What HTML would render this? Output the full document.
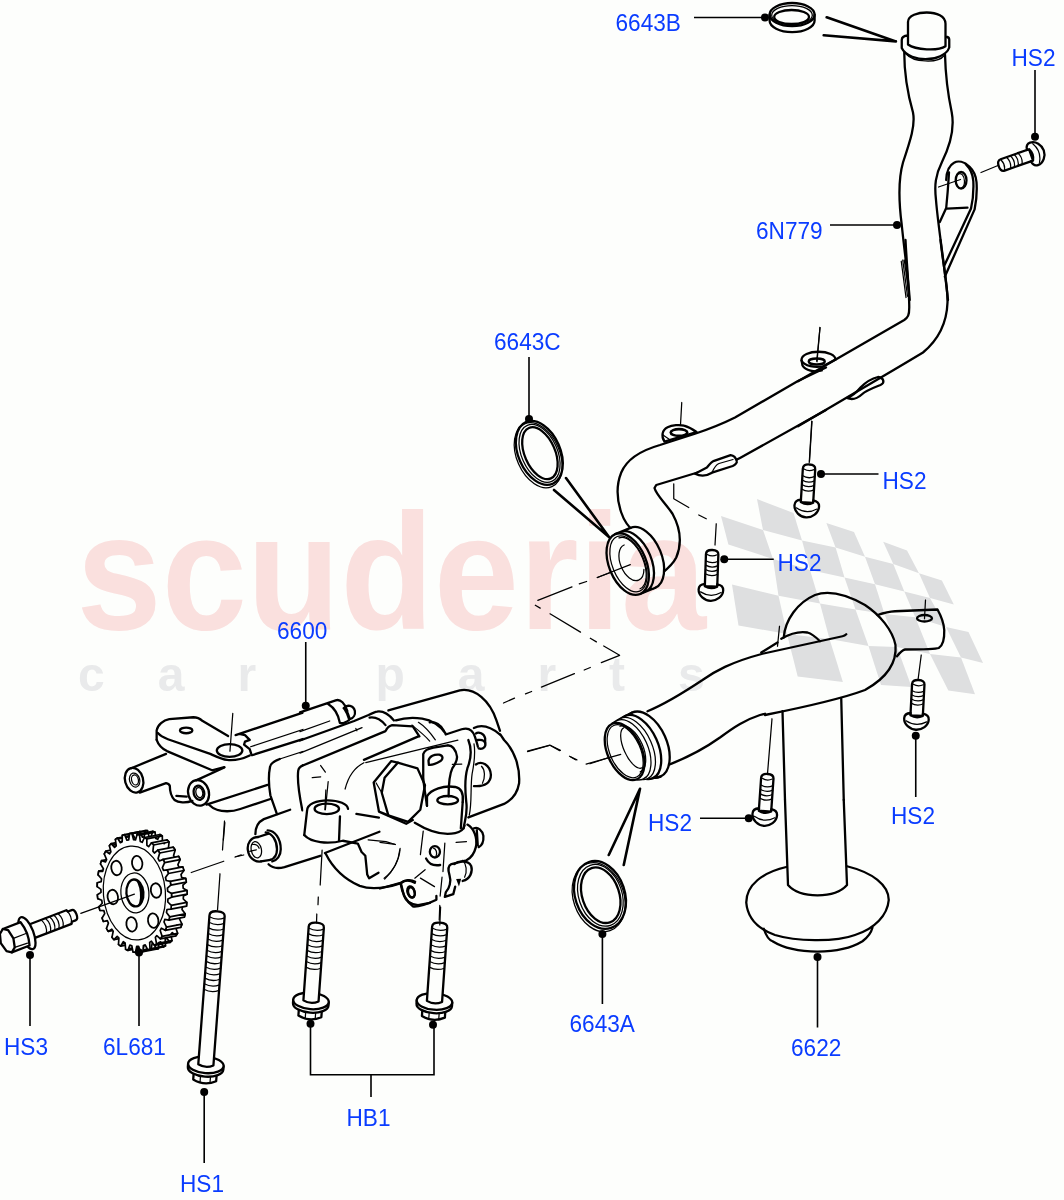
<!DOCTYPE html>
<html>
<head>
<meta charset="utf-8">
<title>Oil Pump</title>
<style>
html,body{margin:0;padding:0;background:#fdfefc;}
svg{display:block;}
.lbl{font-family:"Liberation Sans",sans-serif;font-size:23px;fill:#0a3cff;}
.wm1{font-family:"Liberation Sans",sans-serif;font-weight:bold;font-size:165px;fill:#fce1e1;}
.wm2{font-family:"Liberation Sans",sans-serif;font-weight:bold;font-size:48px;fill:#ebebee;letter-spacing:53px;}
.k{vector-effect:non-scaling-stroke;fill:none;stroke:#000;stroke-width:2.3;stroke-linecap:round;stroke-linejoin:round;}
.t{vector-effect:non-scaling-stroke;fill:none;stroke:#000;stroke-width:1.25;stroke-linecap:round;stroke-linejoin:round;}
.w{vector-effect:non-scaling-stroke;fill:#fdfefc;stroke:#000;stroke-width:2.3;stroke-linecap:round;stroke-linejoin:round;}
.wt{vector-effect:non-scaling-stroke;fill:#fdfefc;stroke:#000;stroke-width:1.25;stroke-linecap:round;stroke-linejoin:round;}
.ld{fill:none;stroke:#000;stroke-width:1.6;}
.dot{fill:#000;stroke:none;}
.fl{fill:#e0e0e3;stroke:none;}
</style>
</head>
<body>
<svg width="1064" height="1200" viewBox="0 0 1064 1200">
<rect width="1064" height="1200" fill="#fdfefc"/>
<defs>
<clipPath id="cp1"><rect x="-50" y="-50" width="1026" height="900"/></clipPath>
<g id="bolt">
<path class="w" d="M-6.2 38 L-6.2 4.5 Q-6.2 0 0 0 Q6.2 0 6.2 4.5 L6.2 38Z"/>
<path class="w" d="M-6.2 35.5 C-10 36 -12.3 38 -12.3 41.5 C-12.3 48 -6 53 0 53 C6 53 12.3 48 12.3 41.5 C12.3 38 10 36 6.2 35.5 L6.2 38 Q0 41.5 -6.2 38Z"/>
<path class="t" d="M-5 4.8 Q0 7.5 5 4.8 M-6.2 11.5 Q0 15 6.2 11.5 M-6.2 16 Q0 19.5 6.2 16 M-6.2 20.5 Q0 24 6.2 20.5 M-6.2 25 Q0 28.5 6.2 25 M-10.3 44 Q0 50.5 10.3 44"/>
</g>
</defs>
<!-- WATERMARK -->
<!-- DRAWING -->
<g id="drawing">
<!-- tile A: tube top -->
<g transform="translate(798,0) scale(0.25)">
<path class="w" d="M440 142 C425 143 415 150 415 160 L415 192 C430 225 480 237 510 237 C550 237 595 220 605 190 L605 158 C605 150 598 147 590 147Z"/>
<path class="w" d="M440 178 L440 88 C440 62 480 50 515 50 C555 50 590 65 590 95 L590 185 C560 205 470 200 440 178Z"/>
<path class="t" d="M432 215 C460 250 560 255 585 222"/>
<path class="k" d="M425 210 C425 300 440 380 460 450 C470 500 450 560 420 650 C400 720 402 800 415 900 C425 1000 440 1100 447 1200"/>
<path class="k" d="M588 218 C590 300 600 380 615 450 C628 520 605 590 575 650 C550 700 545 740 552 800 C560 900 578 1000 600 1200"/>
<path class="t" d="M562 748 L650 718 M732 690 L800 662"/>
<path class="t" d="M413 1045 L432 1190 M419 1040 L438 1185 M425 1040 L444 1175"/>
</g>
<!-- bracket -->
<path class="k" d="M946.2 180 C946.5 172 949 165.5 954 162.8 C958 160.5 964 161.5 969.6 166.8 C973.5 170.5 976 176 976.5 182 C977.2 191 976.5 200 974.6 209.4 L944.8 276.7"/>
<path class="k" d="M966 164.5 C970 168.5 972.8 174 973.3 181 C973.8 191 973 200 971 208.6 L944.1 266"/>
<path class="k" d="M949 172.5 C948.5 180 948.3 186.7 946.2 208 L939.8 222.1 M947 208.6 L967.5 207.7"/>
<ellipse class="k" cx="961.1" cy="180.3" rx="5.4" ry="8.3"/>
<path class="t" d="M958.5 174 C961 172.5 964.5 175.5 964.5 181.5 C964.5 185 963 187.5 961 188"/>
<use href="#bolt" transform="translate(998.8,166.3) rotate(-109.5) scale(0.97,0.9)"/>
<!-- tile B: tube bend -->
<g transform="translate(798,240) scale(0.25)">
<path class="k" d="M430 0 C435 100 445 200 445 270 C445 300 440 310 425 320 L0 565"/>
<path class="k" d="M570 0 C580 100 600 180 598 250 C595 340 560 400 500 450 C450 480 400 510 340 545 L0 745"/>
<path class="k" d="M150 478 C150 460 120 447 82 447 C45 447 14 460 14 480 L18 502 C30 522 65 530 95 522"/>
<path class="k" d="M14 482 C25 505 70 512 100 505 L150 478"/>
<ellipse cx="75" cy="486" rx="32" ry="12" class="k" style="stroke-width:2.4"/>
<path class="t" d="M88 350 L76 487 M55 725 L45 890"/>
<path class="k" d="M195 632 C220 642 240 632 255 618 C275 600 300 592 330 580 C348 572 345 552 320 548 C300 553 272 568 252 588 C238 605 218 625 195 632Z"/>
</g>
<use href="#bolt" transform="translate(809.3,464.5) rotate(3.5)"/>
<!-- tile C: tube lower run + bell -->
<g transform="translate(560,330) scale(0.25)">
<path class="k" d="M1064 150 L950 205 L700 350 C650 375 600 395 540 415 L400 460 C330 480 270 510 245 570 C225 620 228 680 245 730 C255 760 275 790 300 810"/>
<path class="k" d="M1064 320 L720 512 C690 528 640 545 600 555 L385 620 L378 632 C385 660 420 690 450 735 C480 790 490 850 465 910 C450 940 430 955 405 975"/>
<path class="t" d="M487 290 L480 415 M1008 365 L998 525 M150 990 L280 940"/>
<path class="t" d="M455 615 L455 675 L515 710 M555 740 L585 755 M625 775 L620 860"/>
</g>
<!-- tabs -->
<path class="w" d="M664.5 441.7 C661 436 662 430 667.6 427.2 C672 425 680 424.5 684 425.7 C689 427 693 429.5 696.5 432Z"/>
<path class="t" d="M663 435 L669.5 439.5"/>
<ellipse class="k" cx="679" cy="432.5" rx="8.3" ry="3.4" style="stroke-width:2.6"/>
<path class="w" d="M695 473.7 C699.6 476 705.8 476.5 712 472.7 L732.7 466 C736 464.5 737.2 462 736.8 461.3 C736 458 734 455.5 730.6 455.1 L714.1 460.8 C711 462 709 465 706.9 467.5Z"/>
<path class="t" d="M712 472.5 C714 468 716 464.5 719 463.5 L733 459.5"/>
<!-- second upper tab (right) -->
<path class="t" d="M820 327.5 L816.75 361"/>
<!-- bell end -->
<g transform="translate(627.7,564.1) rotate(-22.5)">
<ellipse class="w" cx="16.5" cy="0" rx="18.6" ry="32.4"/>
<rect x="0" y="-32.4" width="16.5" height="64.8" fill="#fdfefc"/>
<path class="k" d="M0 -32.4 H16.5 M0 32.4 H16.5 M5.5 -32.4 A18.6 32.4 0 0 1 5.5 32.4"/>
<ellipse class="w" cx="0" cy="0" rx="18.6" ry="32.4"/>
<ellipse class="t" cx="0.8" cy="0" rx="16" ry="29.5"/>
<path class="t" d="M2 -27.5 A14 27.5 0 0 1 2 27.5"/>
<path class="t" d="M4 -19 A11 19 0 0 0 4 19 A11 19 0 0 0 13 11"/>
</g>
<path class="t" d="M597.2 577.5 L630.3 564.6"/>
<use href="#bolt" transform="translate(712.3,550) rotate(2) scale(1,0.96)"/>
<!-- rings -->
<path class="k" style="stroke-width:2.6" d="M566 478 L609 537 M554 490 L609 537 M826.7 17.3 L895.9 41.4 M823.7 35.3 L895.9 41.4 M608.75 855 L640 788.75 M623.75 865 L640 788.75"/>
<g transform="translate(539,453.6) rotate(-23.6)">
<ellipse class="t" cx="-1.4" cy="1.2" rx="21.5" ry="34.2"/>
<ellipse class="k" cx="0.6" cy="-0.5" rx="21" ry="33.6"/>
<ellipse class="k" cx="1" cy="0" rx="15.2" ry="27.5"/>
<ellipse class="t" cx="0.6" cy="0" rx="18" ry="30.6"/>
</g>
<g transform="translate(599.6,895.6) rotate(-18.7)">
<ellipse class="t" cx="-1.4" cy="1.2" rx="25.3" ry="35.4"/>
<ellipse class="k" cx="0.6" cy="-0.5" rx="24.8" ry="34.8"/>
<ellipse class="k" cx="1.2" cy="0" rx="18.5" ry="28.6"/>
<ellipse class="t" cx="0.8" cy="0" rx="21.6" ry="31.7"/>
</g>
<g>
<path class="k" d="M769.6 14.6 L769.6 20.5 A22.5 11.6 0 0 0 814.6 20.5 L814.6 14.6"/>
<ellipse class="k" cx="792.1" cy="14.6" rx="22.5" ry="11.6"/>
<ellipse class="t" cx="792" cy="15.2" rx="20.3" ry="9.6"/>
<ellipse class="k" cx="791.6" cy="17" rx="17.4" ry="7"/>
</g>
<!-- tile D/E/F: pickup tube 6622 -->
<g transform="translate(740,570) scale(0.25)">
<path class="k" d="M170 565 L180 920 M405 515 L415 920"/>
<path class="k" d="M175 270 C180 200 230 130 300 100 C350 82 420 95 500 140 C560 180 610 240 622 300 C628 370 590 430 500 480 C420 510 300 540 100 580"/>
<path class="k" d="M165 275 C200 255 240 245 270 250 C290 255 305 270 320 285 M85 330 L150 290"/>
<path class="t" d="M158 225 L150 305 M742 120 L738 195 M725 340 L712 440 M128 595 L110 815"/>
<path class="k" d="M550 180 C580 170 600 166 620 165 L790 158 C805 185 815 210 817 240 C818 275 815 300 795 312 C780 318 700 318 660 318 C650 320 640 330 628 345"/>
<ellipse class="k" cx="738" cy="193" rx="30" ry="13"/>
</g>
<g transform="translate(590,580) scale(0.25)">
<path class="k" d="M230 525 C290 500 360 460 450 400 C500 365 560 330 690 295 L1010 225 C1015 224 1020 222 1025 217"/>
<path class="k" d="M300 745 C380 715 450 680 520 630 C580 585 620 560 680 540 L700 535"/>
<path class="t" d="M0 735 L120 695"/>
</g>
<g transform="translate(700,800) scale(0.25)">
<path class="k" d="M340 0 L352 340 C400 395 540 395 588 340 L575 0"/>
<path class="k" d="M345 268 C250 290 185 340 185 410 C190 470 230 515 300 540 C380 565 540 570 620 540 C700 515 750 460 755 400 C755 340 690 290 588 265"/>
<path class="k" d="M255 515 C265 545 275 560 290 565 C380 620 560 620 650 565 C670 550 685 530 690 510"/>
</g>
<!-- inlet flange -->
<g transform="translate(624.6,751.5) rotate(-24)">
<path class="w" d="M0 -30.4 L22.5 -32.5 L22.5 37.5 L0 30.4Z" style="stroke:none"/>
<ellipse class="w" cx="22.5" cy="2.5" rx="20.5" ry="35"/>
<path class="k" d="M0 -30.4 L6 -31.3 L15 -32.2 L22.5 -32.5 M0 30.4 L6 32.7 L15 35.8 L22.5 37.5"/>
<ellipse class="w" cx="15" cy="1.8" rx="19" ry="34"/>
<ellipse class="wt" cx="10" cy="1.2" rx="18" ry="33"/>
<ellipse class="wt" cx="6" cy="0.7" rx="17.5" ry="32"/>
<ellipse class="w" cx="0" cy="0" rx="17" ry="30.4"/>
<ellipse class="t" cx="0.6" cy="0" rx="15.2" ry="28.2"/>
<path class="t" d="M6 -25 A13 25 0 0 1 6 25"/>
<path class="t" d="M9 -22 A9 22 0 0 0 9 22"/>
</g>
<use href="#bolt" transform="translate(767.6,774) rotate(4) scale(1,0.98)"/>
<use href="#bolt" transform="translate(918.5,680) rotate(3) scale(1,0.94)"/>
<!-- pump P1 -->
<g transform="translate(120,690) scale(0.18797)" clip-path="url(#cp1)">
<path class="k" d="M195 265 L195 215 C200 185 230 160 262 155 L390 145 C410 145 425 152 440 165 L575 245"/>
<path class="k" d="M200 228 C215 245 235 255 255 262 L480 340 C520 358 545 370 570 372 C600 375 640 372 690 348"/>
<path class="k" d="M195 265 C205 295 225 312 250 325 L490 427 L555 410"/>
<ellipse class="k" cx="352" cy="215" rx="33" ry="15"/>
<ellipse class="k" cx="583" cy="322" rx="68" ry="34"/>
<path class="t" d="M600 125 L585 325 M558 705 L550 798"/>
<path class="k" d="M615 240 L1064 90 M640 235 L665 240 L690 265 L665 275 L660 290 L690 315 L700 345"/>
<path class="t" d="M695 302 L1064 180"/>
<path class="k" d="M702 347 L1064 232"/>
<!-- tube1 -->
<path class="k" d="M60 416 L245 340 M105 546 L245 495 C255 497 262 500 265 510 C265 540 275 570 290 585 C310 600 350 602 385 590 M300 563 L355 567"/>
<g transform="translate(75,480) rotate(-15)"><ellipse class="k" rx="48" ry="67"/><ellipse class="t" cx="3" rx="27" ry="38"/><ellipse class="t" cx="5" rx="18" ry="27"/></g>
<!-- tube2 -->
<path class="k" d="M405 481 L555 412 M460 610 L785 505 M475 612 C495 632 530 645 570 645 C600 645 620 640 640 633 L800 580"/>
<g transform="translate(418,547) rotate(-15)"><ellipse class="k" rx="55" ry="69"/><ellipse class="k" cx="2" rx="28" ry="38"/><ellipse class="t" cx="4" rx="18" ry="27"/></g>
<!-- main body left -->
<path class="t" d="M1064 298 L850 367"/>
<path class="k" d="M850 367 C820 378 800 390 798 410 C792 440 788 490 800 560 L835 660"/>
<path class="k" d="M975 400 C955 408 950 415 948 430 C943 470 950 540 970 640"/>
</g>
<!-- pump P2 -->
<g transform="translate(300,680) scale(0.18797)">
<path class="k" d="M0 172 L190 108 C215 100 240 125 252 165 M150 128 C185 150 205 190 212 228 C228 235 245 225 262 212"/>
<path class="k" d="M232 150 C250 128 285 135 292 165 C295 185 285 202 268 207"/>
<path class="k" style="stroke-width:3" d="M238 152 C250 170 258 190 262 205"/>
<path class="t" d="M0 275 L158 218 M0 389 L330 253 M297 258 L303 270"/>
<path class="k" d="M15 455 L455 272 C462 256 470 245 490 240 L600 247 L635 300"/>
<path class="k" d="M0 322 L211 246 L288 218 L365 186 C385 176 400 169 410 168 C435 164 470 180 500 215"/>
<path class="k" d="M370 200 C400 195 430 210 455 240"/>
<path class="k" d="M470 162 L850 55 C930 40 1010 110 1045 215 L1064 270"/>
<path class="k" d="M510 215 C540 205 600 198 650 205 C700 212 750 245 775 285"/>
<path class="k" d="M690 225 C720 220 750 240 765 270"/>
<path class="t" d="M595 240 C620 260 660 290 690 325 M630 225 C670 250 700 290 720 318"/>
<path class="k" d="M340 425 L630 300"/>
<path class="t" d="M350 440 L840 320"/>
<path class="k" d="M775 290 L860 262 C900 250 920 270 930 300 C940 330 945 345 946 355"/>
<path class="k" d="M935 285 C950 272 980 285 985 310 L985 335"/>
<path class="k" d="M925 255 C960 238 1010 245 1064 290"/>
<!-- hex nut -->
<path class="k" d="M520 440 L625 470 L665 560 L640 690 L575 755 L470 720 L435 600 L450 520Z"/>
<path class="k" d="M485 432 L392 545 L420 700 L565 765 L600 745 M485 432 L520 440 M420 700 L470 720"/>
<path class="t" d="M405 548 L435 600"/>
<!-- arc + dashes near left boss -->
<path class="t" d="M240 580 C260 500 300 460 340 440 M65 520 L110 515 M110 455 L135 490 M150 540 L135 690"/>
<path class="k" d="M300 712 L420 732"/>
</g>
<!-- pump P3 -->
<g transform="translate(230,790) scale(0.18797)">
<path class="k" d="M320 105 L180 155 C150 170 135 200 135 235"/>
<path class="k" d="M205 395 C225 415 260 418 290 410 L480 350 M505 335 L795 222"/>
<path class="k" d="M200 215 C240 215 270 260 270 315 C270 350 250 375 225 380"/>
<path class="k" d="M190 225 C225 230 250 270 250 315 C250 345 235 365 215 372"/>
<path class="k" d="M150 250 L205 232 M165 380 L215 372"/>
<path class="k" d="M150 250 C110 250 90 285 95 320 C100 360 130 385 165 380"/>
<ellipse class="t" cx="140" cy="318" rx="27" ry="44" transform="rotate(-12 140 318)"/>
<path class="t" d="M120 290 C135 285 150 295 155 310 M30 355 L60 345 M105 327 L140 318"/>
<!-- cylinder boss -->
<path class="k" d="M395 240 L410 110 C410 75 460 55 520 55 C580 55 625 75 628 100"/>
<path class="k" d="M395 240 C430 280 520 290 600 270 L680 285 L700 330 L720 350 L725 400 L730 450 L740 470 L790 440"/>
<ellipse class="k" cx="515" cy="100" rx="65" ry="28"/>
<path class="k" d="M585 140 L580 270"/>
<path class="t" d="M510 0 L505 105"/>
<!-- lower body -->
<path class="k" d="M510 340 C540 400 600 470 690 510 C760 535 850 515 910 495 C930 478 960 473 985 488"/>
<path class="k" d="M910 500 L925 560 C935 590 965 608 1000 612 L1064 600"/>
<ellipse class="k" cx="965" cy="545" rx="17" ry="28" transform="rotate(-15 965 545)"/>
<path class="t" d="M735 265 L830 275 L880 290 M905 310 C900 380 870 430 820 470"/>
</g>
<!-- pump P4 -->
<g transform="translate(380,740) scale(0.18797)">
<path class="k" d="M640 -30 L660 0 C720 60 745 150 740 230 C730 290 700 320 660 340 L470 412"/>
<path class="k" d="M510 130 C540 110 585 130 590 185 C590 225 560 250 500 245"/>
<path class="t" d="M540 140 C560 160 560 200 545 230"/>
<path class="k" d="M520 0 C545 -5 565 8 560 30 C555 45 540 50 525 45"/>
<path class="k" d="M470 0 C490 50 485 100 465 150 C445 220 455 290 460 340 C465 400 450 430 445 470"/>
<path class="t" d="M500 20 C510 80 500 130 490 180 C480 250 490 330 475 400"/>
<!-- tab -->
<path class="k" d="M250 350 C245 310 235 260 230 200 L230 75 C235 55 255 45 285 40 L360 28 C390 30 405 55 410 90 C410 110 400 130 385 150 C370 180 365 230 365 300"/>
<path class="k" d="M258 110 C262 85 290 75 315 78 C335 82 338 100 322 112 C300 125 275 135 260 132Z"/>
<path class="t" d="M385 130 L435 128"/>
<!-- boss right -->
<path class="k" d="M250 350 L250 300 C270 262 340 240 400 250 C430 256 445 285 440 330"/>
<ellipse class="k" cx="360" cy="320" rx="55" ry="22"/>
<path class="k" d="M440 330 L430 470"/>
<path class="k" d="M185 440 C250 480 330 510 400 495 C430 490 445 475 450 455"/>
<!-- lower body -->
<path class="t" d="M230 485 L215 610 M0 545 L80 555 M105 585 C100 640 70 700 25 740 M185 735 L240 690 M215 735 L290 780 M405 545 L460 540"/>
<ellipse class="k" cx="292" cy="595" rx="27" ry="30"/>
<path class="t" d="M285 575 C300 580 305 600 298 618"/>
<path class="k" d="M245 630 C260 660 290 670 320 665"/>
<path class="t" d="M345 548 L335 700 M330 730 L320 830 M318 880 L315 958"/>
<path class="k" d="M0 790 L110 760 C130 745 160 745 185 760 M110 765 C115 800 130 850 175 885 C200 890 260 870 300 850 L300 830"/>
<ellipse class="k" cx="165" cy="808" rx="19" ry="30" transform="rotate(-15 165 808)"/>
<path class="k" d="M465 450 C500 470 520 520 510 570 C500 610 480 630 460 640 L380 660 C360 670 360 690 370 720 C380 750 370 790 350 810 L345 835 L390 820 L400 780"/>
<path class="k" d="M500 470 C520 460 545 480 550 510 C552 540 545 560 525 570 M515 480 L520 560"/>
<path class="k" d="M395 660 C420 640 470 640 485 670 C495 700 480 740 440 750"/>
<path class="t" d="M440 640 C460 660 465 700 450 730"/>
<path d="M405 740 L432 738 L420 780Z" fill="#000"/>
<path class="t" d="M785 62 L905 28 L960 55 M1015 90 L1040 105"/>
</g>
<!-- gear -->
<path class="w" style="stroke-width:1.7" d="M183.2 888.2 L187.0 890.4 L187.1 894.2 L183.4 896.0 L183.3 899.0 L186.8 902.3 L186.5 906.1 L182.5 906.5 L182.0 909.4 L185.2 913.8 L184.3 917.2 L180.3 916.4 L179.5 919.0 L182.0 924.2 L180.7 927.3 L176.9 925.2 L175.7 927.4 L177.6 933.3 L175.9 935.8 L172.3 932.6 L170.9 934.3 L172.0 940.6 L170.0 942.5 L166.9 938.2 L165.2 939.4 L165.5 945.8 L163.3 947.0 L160.7 941.9 L158.9 942.5 L158.4 948.7 L156.1 949.2 L154.1 943.4 L152.2 943.4 L151.0 949.3 L148.5 948.9 L147.3 942.7 L145.4 942.1 L143.4 947.4 L141.1 946.3 L140.6 939.9 L138.8 938.7 L136.2 943.1 L134.0 941.3 L134.4 935.0 L132.7 933.3 L129.5 936.7 L127.5 934.2 L128.7 928.3 L127.3 926.2 L123.7 928.4 L122.0 925.4 L123.9 920.1 L122.8 917.5 L118.9 918.5 L117.6 915.0 L120.2 910.6 L119.4 907.7 L115.4 907.4 L114.5 903.7 L117.7 900.2 L117.2 897.2 L113.3 895.6 L112.9 891.8 L116.5 889.4 L116.4 886.4 L112.7 883.6 L112.8 879.8 L116.7 878.7 L117.0 875.8 L113.6 871.9 L114.2 868.2 L118.2 868.4 L118.9 865.7 L116.0 860.9 L117.1 857.6 L121.0 859.0 L122.1 856.6 L119.8 851.0 L121.3 848.2 L125.1 850.9 L126.4 848.9 L124.9 842.8 L126.7 840.6 L130.1 844.4 L131.7 842.9 L130.9 836.5 L133.0 835.0 L135.9 839.7 L137.7 838.8 L137.8 832.4 L140.1 831.6 L142.4 837.1 L144.2 836.8 L145.1 830.7 L147.5 830.7 L149.1 836.7 L151.0 836.9 L152.6 831.4 L155.0 832.1 L155.8 838.4 L157.7 839.3 L160.0 834.5 L162.3 835.9 L162.4 842.3 L164.1 843.7 L167.0 839.8 L169.1 842.0 L168.4 848.1 L169.9 850.0 L173.3 847.2 L175.2 850.0 L173.6 855.6 L174.9 858.0 L178.7 856.4 L180.1 859.6 L177.9 864.6 L178.9 867.3 L182.8 866.9 L183.9 870.5 L181.0 874.5 L181.7 877.5 L185.7 878.4 L186.3 882.2 L182.9 885.2Z"/>
<path class="w" style="stroke-width:1.7" d="M171.5 893.4 L171.6 897.2 L187.1 894.2 L187.0 890.4Z"/>
<path class="w" style="stroke-width:1.7" d="M171.3 905.3 L171.0 909.1 L186.5 906.1 L186.8 902.3Z"/>
<path class="w" style="stroke-width:1.7" d="M169.7 916.8 L168.8 920.2 L184.3 917.2 L185.2 913.8Z"/>
<path class="w" style="stroke-width:1.7" d="M166.5 927.2 L165.2 930.3 L180.7 927.3 L182.0 924.2Z"/>
<path class="w" style="stroke-width:1.7" d="M162.1 936.3 L160.4 938.8 L175.9 935.8 L177.6 933.3Z"/>
<path class="w" style="stroke-width:1.7" d="M156.5 943.6 L154.5 945.5 L170.0 942.5 L172.0 940.6Z"/>
<path class="w" style="stroke-width:1.7" d="M150.0 948.8 L147.8 950.0 L163.3 947.0 L165.5 945.8Z"/>
<path class="w" style="stroke-width:1.7" d="M142.9 951.7 L140.6 952.2 L156.1 949.2 L158.4 948.7Z"/>
<path class="w" style="stroke-width:1.7" d="M135.5 952.3 L133.0 951.9 L148.5 948.9 L151.0 949.3Z"/>
<path class="w" style="stroke-width:1.7" d="M127.9 950.4 L125.6 949.3 L141.1 946.3 L143.4 947.4Z"/>
<path class="w" style="stroke-width:1.7" d="M120.7 946.1 L118.5 944.3 L134.0 941.3 L136.2 943.1Z"/>
<path class="w" style="stroke-width:1.7" d="M114.0 939.7 L112.0 937.2 L127.5 934.2 L129.5 936.7Z"/>
<path class="w" style="stroke-width:1.7" d="M108.2 931.4 L106.5 928.4 L122.0 925.4 L123.7 928.4Z"/>
<path class="w" style="stroke-width:1.7" d="M103.4 921.5 L102.1 918.0 L117.6 915.0 L118.9 918.5Z"/>
<path class="w" style="stroke-width:1.7" d="M99.9 910.4 L99.0 906.7 L114.5 903.7 L115.4 907.4Z"/>
<path class="w" style="stroke-width:1.7" d="M97.8 898.6 L97.4 894.8 L112.9 891.8 L113.3 895.6Z"/>
<path class="w" style="stroke-width:1.7" d="M97.2 886.6 L97.3 882.8 L112.8 879.8 L112.7 883.6Z"/>
<path class="w" style="stroke-width:1.7" d="M98.1 874.9 L98.7 871.2 L114.2 868.2 L113.6 871.9Z"/>
<path class="w" style="stroke-width:1.7" d="M100.5 863.9 L101.6 860.6 L117.1 857.6 L116.0 860.9Z"/>
<path class="w" style="stroke-width:1.7" d="M104.3 854.0 L105.8 851.2 L121.3 848.2 L119.8 851.0Z"/>
<path class="w" style="stroke-width:1.7" d="M109.4 845.8 L111.2 843.6 L126.7 840.6 L124.9 842.8Z"/>
<path class="w" style="stroke-width:1.7" d="M115.4 839.5 L117.5 838.0 L133.0 835.0 L130.9 836.5Z"/>
<path class="w" style="stroke-width:1.7" d="M122.3 835.4 L124.6 834.6 L140.1 831.6 L137.8 832.4Z"/>
<path class="w" style="stroke-width:1.7" d="M129.6 833.7 L132.0 833.7 L147.5 830.7 L145.1 830.7Z"/>
<path class="w" style="stroke-width:1.7" d="M137.1 834.4 L139.5 835.1 L155.0 832.1 L152.6 831.4Z"/>
<path class="w" style="stroke-width:1.7" d="M144.5 837.5 L146.8 838.9 L162.3 835.9 L160.0 834.5Z"/>
<path class="w" style="stroke-width:1.7" d="M151.5 842.8 L153.6 845.0 L169.1 842.0 L167.0 839.8Z"/>
<path class="w" style="stroke-width:1.7" d="M157.8 850.2 L159.7 853.0 L175.2 850.0 L173.3 847.2Z"/>
<path class="w" style="stroke-width:1.7" d="M163.2 859.4 L164.6 862.6 L180.1 859.6 L178.7 856.4Z"/>
<path class="w" style="stroke-width:1.7" d="M167.3 869.9 L168.4 873.5 L183.9 870.5 L182.8 866.9Z"/>
<path class="w" style="stroke-width:1.7" d="M170.2 881.4 L170.8 885.2 L186.3 882.2 L185.7 878.4Z"/>
<path class="w" style="stroke-width:1.7" d="M167.7 891.2 L171.5 893.4 L171.6 897.2 L167.9 899.0 L167.8 902.0 L171.3 905.3 L171.0 909.1 L167.0 909.5 L166.5 912.4 L169.7 916.8 L168.8 920.2 L164.8 919.4 L164.0 922.0 L166.5 927.2 L165.2 930.3 L161.4 928.2 L160.2 930.4 L162.1 936.3 L160.4 938.8 L156.8 935.6 L155.4 937.3 L156.5 943.6 L154.5 945.5 L151.4 941.2 L149.7 942.4 L150.0 948.8 L147.8 950.0 L145.2 944.9 L143.4 945.5 L142.9 951.7 L140.6 952.2 L138.6 946.4 L136.7 946.4 L135.5 952.3 L133.0 951.9 L131.8 945.7 L129.9 945.1 L127.9 950.4 L125.6 949.3 L125.1 942.9 L123.3 941.7 L120.7 946.1 L118.5 944.3 L118.9 938.0 L117.2 936.3 L114.0 939.7 L112.0 937.2 L113.2 931.3 L111.8 929.2 L108.2 931.4 L106.5 928.4 L108.4 923.1 L107.3 920.5 L103.4 921.5 L102.1 918.0 L104.7 913.6 L103.9 910.7 L99.9 910.4 L99.0 906.7 L102.2 903.2 L101.7 900.2 L97.8 898.6 L97.4 894.8 L101.0 892.4 L100.9 889.4 L97.2 886.6 L97.3 882.8 L101.2 881.7 L101.5 878.8 L98.1 874.9 L98.7 871.2 L102.7 871.4 L103.4 868.7 L100.5 863.9 L101.6 860.6 L105.5 862.0 L106.6 859.6 L104.3 854.0 L105.8 851.2 L109.6 853.9 L110.9 851.9 L109.4 845.8 L111.2 843.6 L114.6 847.4 L116.2 845.9 L115.4 839.5 L117.5 838.0 L120.4 842.7 L122.2 841.8 L122.3 835.4 L124.6 834.6 L126.9 840.1 L128.7 839.8 L129.6 833.7 L132.0 833.7 L133.6 839.7 L135.5 839.9 L137.1 834.4 L139.5 835.1 L140.3 841.4 L142.2 842.3 L144.5 837.5 L146.8 838.9 L146.9 845.3 L148.6 846.7 L151.5 842.8 L153.6 845.0 L152.9 851.1 L154.4 853.0 L157.8 850.2 L159.7 853.0 L158.1 858.6 L159.4 861.0 L163.2 859.4 L164.6 862.6 L162.4 867.6 L163.4 870.3 L167.3 869.9 L168.4 873.5 L165.5 877.5 L166.2 880.5 L170.2 881.4 L170.8 885.2 L167.4 888.2Z"/>
<g transform="rotate(-5 134.4 893.0)"><ellipse class="t" cx="134.4" cy="893.0" rx="31" ry="47"/><ellipse class="t" cx="134.9" cy="893.0" rx="14" ry="20"/><ellipse class="k" cx="134.9" cy="893.0" rx="8.5" ry="13.5"/><path d="M134.9 879.5 a8.5 13.5 0 0 1 0 27 a5 13.5 0 0 0 0 -27Z" fill="#000"/></g>
<ellipse class="k" style="stroke-width:1.8" cx="116.5" cy="868.0" rx="5.2" ry="7.3" transform="rotate(-8 116.5 868.0)"/>
<ellipse class="k" style="stroke-width:1.8" cx="137.2" cy="863.2" rx="5.2" ry="7.3" transform="rotate(-8 137.2 863.2)"/>
<ellipse class="k" style="stroke-width:1.8" cx="156.0" cy="890.5" rx="5.2" ry="7.3" transform="rotate(-8 156.0 890.5)"/>
<ellipse class="k" style="stroke-width:1.8" cx="153.2" cy="920.6" rx="5.2" ry="7.3" transform="rotate(-8 153.2 920.6)"/>
<ellipse class="k" style="stroke-width:1.8" cx="131.6" cy="924.3" rx="5.2" ry="7.3" transform="rotate(-8 131.6 924.3)"/>
<ellipse class="k" style="stroke-width:1.8" cx="112.8" cy="897.0" rx="5.2" ry="7.3" transform="rotate(-8 112.8 897.0)"/>
<path class="t" d="M80.8 913.4 L134.4 894.2"/>
<!-- HS3 -->
<g transform="translate(26,933.5) rotate(-21)">
<path class="w" d="M4 -7.3 L46 -7.3 L47 -5.5 L51 -5.5 Q54 -5.5 54 0 Q54 5.5 51 5.5 L47 5.5 L46 7.3 L4 7.3Z"/>
<path class="t" d="M19 -7.3 Q23 0 19 7.3 M23.5 -7.3 Q27.5 0 23.5 7.3 M28 -7.3 Q32 0 28 7.3 M32.5 -7.3 Q36.5 0 32.5 7.3 M37 -7.3 Q41 0 37 7.3 M46 -7.3 Q49.5 0 46 7.3"/>
<ellipse class="w" cx="1" cy="0" rx="6.5" ry="17"/>
<path class="w" d="M-1 -12.5 L-20 -12.5 L-24 -6 L-24 7 L-20 12.5 L-1 12.5 Q3 0 -1 -12.5Z"/>
<path class="w" d="M-20 -12.5 L-24.5 -9 L-27 0 L-24.5 9.5 L-20 12.5 L-15.5 9 L-13.5 0 L-15.5 -9.5Z"/>
<path class="t" d="M-13.5 0 L0 0 M-15.5 9 L-2 9.5"/>
</g>
<!-- long bolts -->
<g transform="translate(217.4,911.3) rotate(4.3)">
<path class="w" d="M-11.5 160.0 L-11.5 169.5 Q0 175.5 11.5 169.5 L11.5 160.0Z"/>
<path class="t" d="M-4.5 164.0 L-4.5 172.0 M5.5 164.0 L5.5 172.0"/>
<path class="w" d="M-17.8 154.0 L-17.8 157.5 A17.8 8.3 0 0 0 17.8 157.5 L17.8 154.0 Z"/>
<ellipse class="w" cx="0" cy="154.0" rx="17.8" ry="8.3"/>
<path class="w" d="M-7.6 154.0 L-7.6 4.5 Q-7.6 0 0 0 Q7.6 0 7.6 4.5 L7.6 154.0 Q0 158.0 -7.6 154.0Z"/>
<path class="t" d="M-7.6 6.0 Q0 9.5 7.6 6.0 M-7.6 11.6 Q0 15.1 7.6 11.6 M-7.6 17.2 Q0 20.7 7.6 17.2 M-7.6 22.8 Q0 26.3 7.6 22.8 M-7.6 28.4 Q0 31.9 7.6 28.4 M-7.6 34.0 Q0 37.5 7.6 34.0 M-7.6 39.6 Q0 43.1 7.6 39.6 M-7.6 45.2 Q0 48.7 7.6 45.2 M-7.6 50.8 Q0 54.3 7.6 50.8 M-7.6 56.4 Q0 59.9 7.6 56.4 M-7.6 62.0 Q0 65.5 7.6 62.0 M-7.6 67.6 Q0 71.1 7.6 67.6 M-7.6 73.2 Q0 76.7 7.6 73.2 M-7.6 78.8 Q0 82.3 7.6 78.8 "/>
</g>
<g transform="translate(316.6,922.6) rotate(4.1)">
<path class="w" d="M-11.5 84.5 L-11.5 94.0 Q0 100.0 11.5 94.0 L11.5 84.5Z"/>
<path class="t" d="M-4.5 88.5 L-4.5 96.5 M5.5 88.5 L5.5 96.5"/>
<path class="w" d="M-17.8 78.5 L-17.8 82.0 A17.8 8.3 0 0 0 17.8 82.0 L17.8 78.5 Z"/>
<ellipse class="w" cx="0" cy="78.5" rx="17.8" ry="8.3"/>
<path class="w" d="M-7.6 78.5 L-7.6 4.5 Q-7.6 0 0 0 Q7.6 0 7.6 4.5 L7.6 78.5 Q0 82.5 -7.6 78.5Z"/>
<path class="t" d="M-7.6 6.0 Q0 9.5 7.6 6.0 M-7.6 11.6 Q0 15.1 7.6 11.6 M-7.6 17.2 Q0 20.7 7.6 17.2 M-7.6 22.8 Q0 26.3 7.6 22.8 M-7.6 28.4 Q0 31.9 7.6 28.4 M-7.6 34.0 Q0 37.5 7.6 34.0 M-7.6 39.6 Q0 43.1 7.6 39.6 M-7.6 45.2 Q0 48.7 7.6 45.2 "/>
</g>
<g transform="translate(440.0,922.6) rotate(4.0)">
<path class="w" d="M-11.5 85.0 L-11.5 94.5 Q0 100.5 11.5 94.5 L11.5 85.0Z"/>
<path class="t" d="M-4.5 89.0 L-4.5 97.0 M5.5 89.0 L5.5 97.0"/>
<path class="w" d="M-17.8 79.0 L-17.8 82.5 A17.8 8.3 0 0 0 17.8 82.5 L17.8 79.0 Z"/>
<ellipse class="w" cx="0" cy="79.0" rx="17.8" ry="8.3"/>
<path class="w" d="M-7.6 79.0 L-7.6 4.5 Q-7.6 0 0 0 Q7.6 0 7.6 4.5 L7.6 79.0 Q0 83.0 -7.6 79.0Z"/>
<path class="t" d="M-7.6 6.0 Q0 9.5 7.6 6.0 M-7.6 11.6 Q0 15.1 7.6 11.6 M-7.6 17.2 Q0 20.7 7.6 17.2 M-7.6 22.8 Q0 26.3 7.6 22.8 M-7.6 28.4 Q0 31.9 7.6 28.4 M-7.6 34.0 Q0 37.5 7.6 34.0 M-7.6 39.6 Q0 43.1 7.6 39.6 M-7.6 45.2 Q0 48.7 7.6 45.2 "/>
</g>
<path class="t" d="M224.5 821 L222.5 850 M220 873.75 L217.5 910 M322.1 850.2 L320.2 885 M318.3 897 L318 904.7 M316.8 914 L316.5 923 M440.6 907 L439.8 925"/>
<path class="t" d="M191.25 872.5 L223.75 861.25 M235 857 L243.75 855"/>
<!-- dash-dot assembly lines -->
<path class="t" d="M586.6 581.5 L579.3 583.9 M572 586.9 L537.8 600.3 M535.3 605.2 L540.2 608.1 M550 613.8 L580.5 632.1 M590.3 638.2 L596.4 641.9 M603.7 646 L619.6 655.3 L601.3 662.6 M590.3 667.5 L584.2 670 M574.4 673.6 L541.4 687.1 M531.6 691.5 L525.5 693.9 M514.5 698.1 L503.5 703"/>
<path class="t" d="M527.5 751.1 L550 745.2 L559.7 750.6 M569.5 756.2 L576.9 759.9 M586.1 764.1 L620.8 754.3"/>
<!--PARTS-->
</g>
<g id="watermark" style="mix-blend-mode:multiply">
<text class="wm1" x="0" y="629" transform="translate(76.5,0) scale(0.928,1)">scuderia</text>
<text class="wm2" x="78" y="691">car parts</text>
<g class="fl" id="flag">
<!--FLAG-->
<polygon points="757,499 793.5,513 802,540.5 763,530"/>
<polygon points="826.4,523 854,532 865,556.8 835.6,547.5"/>
<polygon points="883.2,541.8 907,550.4 919,573.3 893.3,564"/>
<polygon points="721,516 763,530 773,559 728.4,544.5"/>
<polygon points="802,540.5 835.6,547.5 844.5,577.5 810,570"/>
<polygon points="865,556.8 893.3,564 904.3,591.6 875,584.3"/>
<polygon points="919,573.3 941.9,580.6 953.8,604.5 930,598"/>
<polygon points="773,559 810,570 820,603.5 778.5,595.7"/>
<polygon points="844.5,577.5 875,584.3 884.5,614 855.5,609.5"/>
<polygon points="904.3,591.6 930,598 946,627 915.3,617.3"/>
<polygon points="732,584.5 778.5,595.7 787,634 738.5,625.5"/>
<polygon points="820,603.5 855.5,609.5 868.5,646 829.5,639"/>
<polygon points="884.5,614 915.3,617.3 930,654 897,647"/>
<polygon points="946,627 968.5,632 983,663 961,657.6"/>
<polygon points="787,634 829.5,639 842.9,682 797.7,676.5"/>
<polygon points="868.5,646 897,647 911.6,687 881,685"/>
<polygon points="930,654 961,657.6 975,694.3 948.3,690.6"/>
</g>
</g>
<!-- LEADERS -->
<g id="leaders">
<path class="ld" d="M694 17.5H765 M1035 70V136 M830 225H897 M529 357V419 M824 474H878.5 M727 559.25H773.75 M305.75 642V705 M700 818.25H748 M915.75 736V797 M602.4 934V1004 M817.5 957V1027.5 M30 955V1026 M139 953V1026 M310.5 1024V1074.7H434V1025 M371 1074.7V1097 M204.2 1092V1163"/>
<g class="dot">
<circle cx="765" cy="17.5" r="4"/><circle cx="1035" cy="136.75" r="4"/><circle cx="897" cy="225" r="4"/>
<circle cx="529" cy="419" r="4"/><circle cx="821" cy="474" r="4"/><circle cx="724.25" cy="559.25" r="4"/>
<circle cx="305.75" cy="705.75" r="4"/><circle cx="748.75" cy="818.25" r="4"/><circle cx="915.75" cy="735.75" r="4"/>
<circle cx="602.4" cy="934" r="4"/><circle cx="817.5" cy="957" r="4"/><circle cx="30" cy="955" r="4"/>
<circle cx="139" cy="952.6" r="4"/><circle cx="310.5" cy="1023.7" r="4"/><circle cx="433" cy="1024.7" r="4"/>
<circle cx="204.2" cy="1092" r="4"/>
</g>
</g>
<!-- LABELS -->
<g id="labels" class="lbl">
<text transform="translate(615.5,31) scale(0.985,1)">6643B</text>
<text transform="translate(1011.5,65.5) scale(0.985,1)">HS2</text>
<text transform="translate(756,238.5) scale(0.985,1)">6N779</text>
<text transform="translate(494,350) scale(0.985,1)">6643C</text>
<text transform="translate(882.5,488.75) scale(0.985,1)">HS2</text>
<text transform="translate(777.5,571.25) scale(0.985,1)">HS2</text>
<text transform="translate(277,639) scale(0.985,1)">6600</text>
<text transform="translate(648,830.75) scale(0.985,1)">HS2</text>
<text transform="translate(891,823.75) scale(0.985,1)">HS2</text>
<text transform="translate(569.5,1032) scale(0.985,1)">6643A</text>
<text transform="translate(791,1055.75) scale(0.985,1)">6622</text>
<text transform="translate(4,1055) scale(0.985,1)">HS3</text>
<text transform="translate(103,1055) scale(0.985,1)">6L681</text>
<text transform="translate(346.5,1126) scale(0.985,1)">HB1</text>
<text transform="translate(180,1192) scale(0.985,1)">HS1</text>
</g>
</svg>
</body>
</html>
